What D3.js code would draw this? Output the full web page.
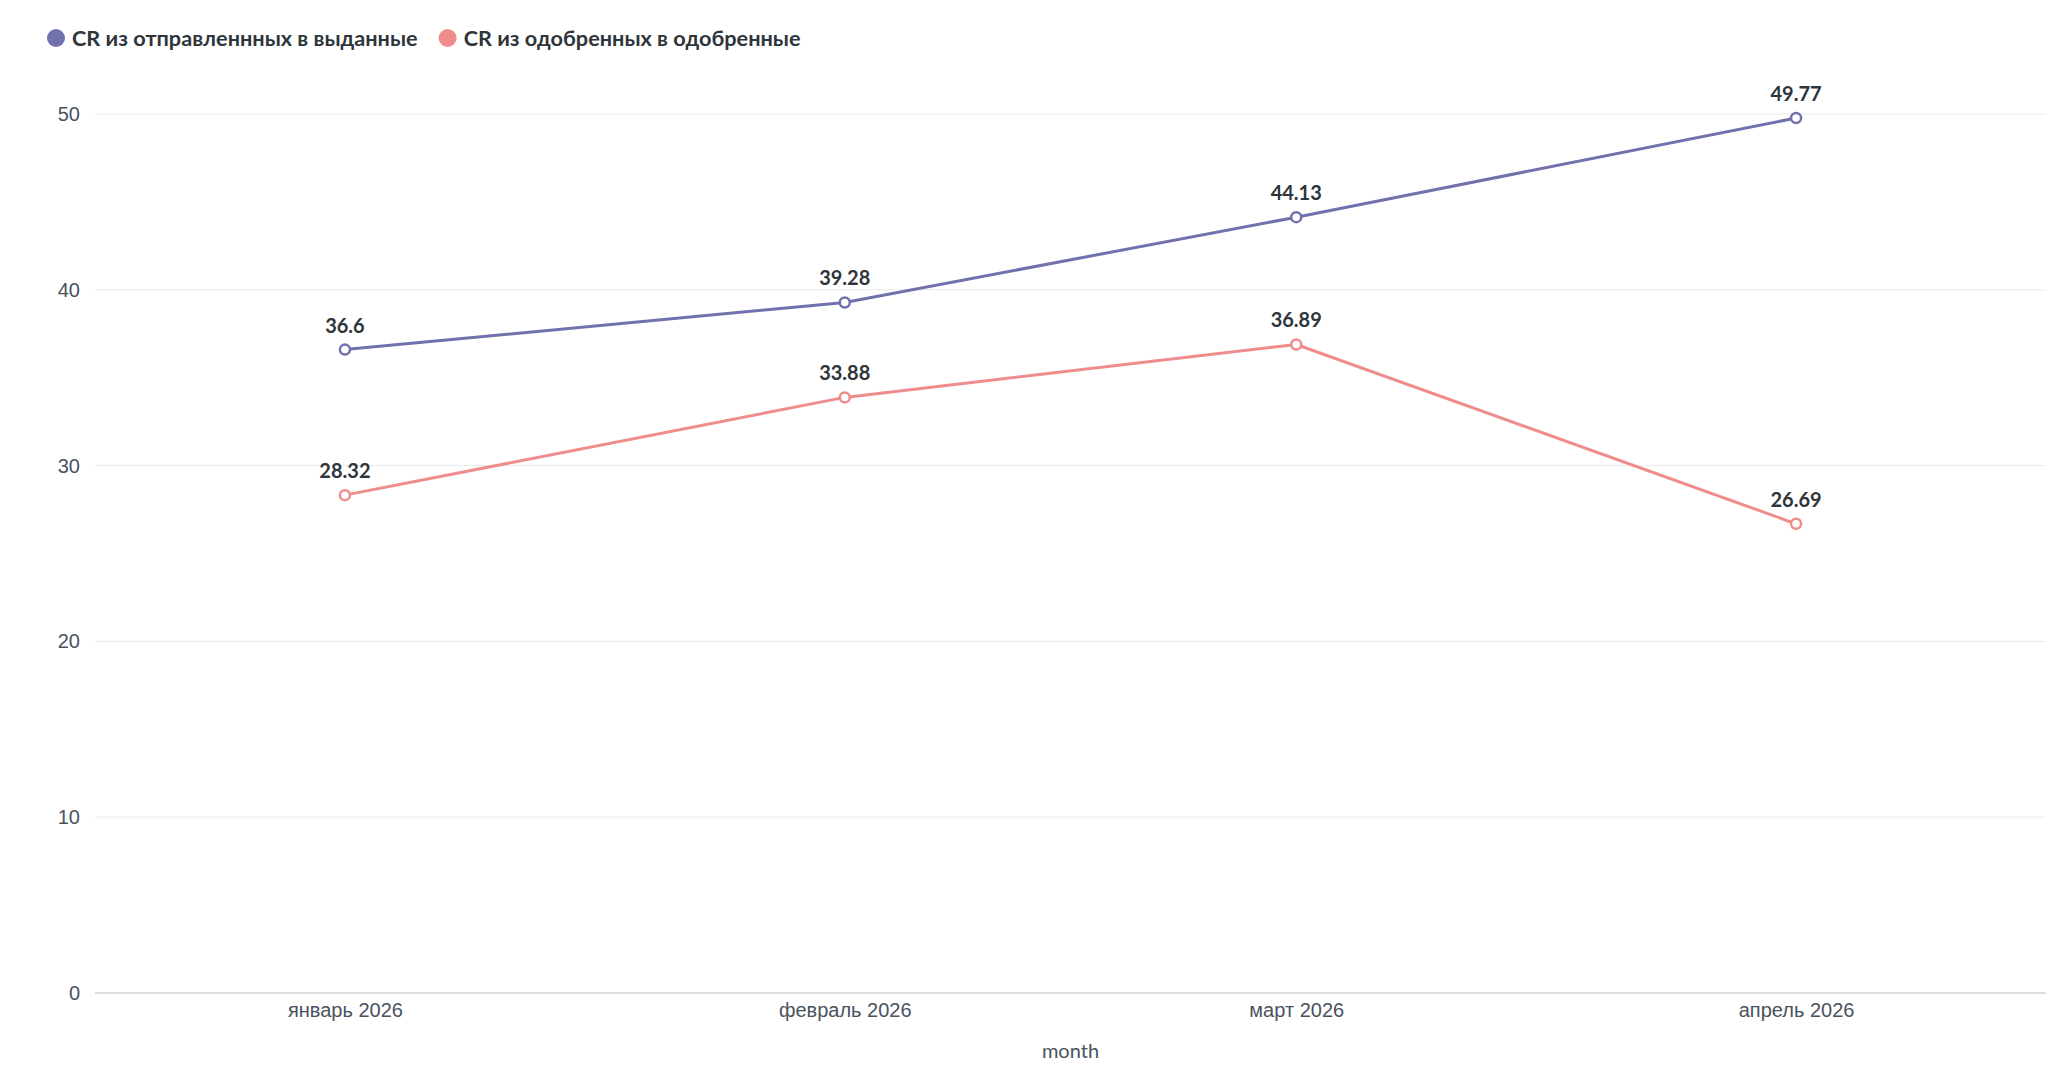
<!DOCTYPE html>
<html>
<head>
<meta charset="utf-8">
<script src="https://cdn.jsdelivr.net/npm/d3@7"></script>
<style>
    body { margin: 0; background: #fff; font-family: Lato, "Noto Sans", sans-serif; }
    #chart { display: block; }
    .grid line { stroke: #ececec; stroke-width: 1; }
    .axis-label { fill: #4a5260; font-size: 20px; }
    .legend-text { fill: #2e353b; font-size: 21.7px; font-weight: 700; }
    .value-label { fill: #2e353b; font-size: 20px; font-weight: 700; }
</style>
</head>
<body>
<svg id="chart" width="2048" height="1091"></svg>
<script>
// data
const months = ['2026-01-01', '2026-02-01', '2026-03-01', '2026-04-01'];
const monthLabels = ['январь 2026', 'февраль 2026', 'март 2026', 'апрель 2026'];
const seriesNames = ['CR из отправленнных в выданные', 'CR из одобренных в одобренные'];
const sentToIssued = [36.6, 39.28, 44.13, 49.77];
const approvedToApproved = [28.32, 33.88, 36.89, 26.69];
const seriesColors = ['#7172ad', '#ef8c8c'];
const yTicks = [0, 10, 20, 30, 40, 50];

const parseDate = d3.timeParse('%Y-%m-%d');
const dates = months.map(parseDate);
const series = [sentToIssued, approvedToApproved].map((vals, i) => ({
    name: seriesNames[i],
    color: seriesColors[i],
    points: vals.map((v, j) => ({ date: dates[j], value: v }))
}));

const svg = d3.select('#chart');

const DIM = {
    left: 95,
    right: 2046,
    top: 114,
    bottom: 993
};

// half a month of padding either side, as in the original
const pad = 15.5 * 24 * 3600 * 1000;
const x = d3.scaleTime()
    .domain([new Date(+dates[0] - pad), new Date(+dates[dates.length - 1] + pad)])
    .range([DIM.left, DIM.right]);

const y = d3.scaleLinear()
    .domain([0, 50])
    .range([DIM.bottom, DIM.top]);

// gridlines
svg.append('g')
    .attr('class', 'grid')
    .selectAll('line')
    .data(yTicks.filter(t => t > 0))
    .join('line')
    .attr('x1', DIM.left)
    .attr('x2', DIM.right)
    .attr('y1', d => y(d))
    .attr('y2', d => y(d));

// baseline
svg.append('line')
    .attr('x1', DIM.left)
    .attr('x2', DIM.right)
    .attr('y1', y(0))
    .attr('y2', y(0))
    .attr('stroke', '#dcdfe0')
    .attr('stroke-width', 2);

// y axis labels
const yAxis = d3.axisLeft(y).tickValues(yTicks).tickSize(0).tickPadding(0);
const yg = svg.append('g')
    .attr('transform', `translate(80,0)`)
    .call(yAxis);
yg.select('.domain').remove();
yg.selectAll('text')
    .attr('class', 'axis-label')
    .attr('font-family', null)
    .attr('font-size', null)
    .attr('fill', null);

// x axis labels
const xAxis = d3.axisBottom(x)
    .tickValues(dates)
    .tickFormat((d, i) => monthLabels[i])
    .tickSize(0)
    .tickPadding(0);
const xg = svg.append('g')
    .attr('transform', `translate(0,${y(0) + 4})`)
    .call(xAxis);
xg.select('.domain').remove();
xg.selectAll('text')
    .attr('class', 'axis-label')
    .attr('dy', '1em')
    .attr('font-family', null)
    .attr('font-size', null)
    .attr('fill', null);

// x axis title
svg.append('text')
    .attr('class', 'axis-label')
    .attr('x', (DIM.left + DIM.right) / 2)
    .attr('y', 1058)
    .attr('text-anchor', 'middle')
    .text('month');

// lines
const line = d3.line()
    .x(d => x(d.date))
    .y(d => y(d.value));

const sg = svg.append('g')
    .selectAll('g')
    .data(series)
    .join('g');

sg.append('path')
    .attr('d', d => line(d.points))
    .attr('fill', 'none')
    .attr('stroke', d => d.color)
    .attr('stroke-width', 3)
    .attr('stroke-linejoin', 'round');

sg.selectAll('circle')
    .data(d => d.points.map(p => ({ ...p, color: d.color })))
    .join('circle')
    .attr('cx', d => x(d.date))
    .attr('cy', d => y(d.value))
    .attr('r', 5)
    .attr('fill', '#fff')
    .attr('stroke', d => d.color)
    .attr('stroke-width', 2.5);

sg.selectAll('.value-label')
    .data(d => d.points)
    .join('text')
    .attr('class', 'value-label')
    .attr('x', d => x(d.date))
    .attr('y', d => y(d.value) - 17)
    .attr('text-anchor', 'middle')
    .text(d => d.value);

// legend
const legend = svg.append('g').attr('transform', 'translate(0,38)');
let lx = 56;
series.forEach(s => {
    legend.append('circle')
        .attr('cx', lx)
        .attr('cy', 0)
        .attr('r', 9)
        .attr('fill', s.color);
    const t = legend.append('text')
        .attr('class', 'legend-text')
        .attr('x', lx + 16)
        .attr('y', 0)
        .attr('dy', '0.35em')
        .text(s.name);
    lx += 16 + t.node().getComputedTextLength() + 30;
});
</script>
</body>
</html>
